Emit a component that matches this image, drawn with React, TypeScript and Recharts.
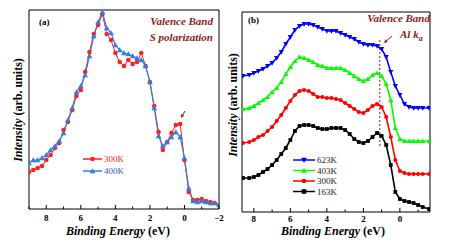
import React from "react";
import {
  LineChart,
  Line,
  XAxis,
  YAxis,
  ReferenceArea,
  ReferenceLine,
  Legend,
} from "recharts";

// ---- panel (a): S polarization, two temperatures ----
const energyA = [
  9, 8.75, 8.5, 8.25, 8, 7.75, 7.5, 7.25, 7, 6.75, 6.5, 6.25, 6, 5.75, 5.5,
  5.25, 5, 4.75, 4.5, 4.25, 4, 3.75, 3.5, 3.25, 3, 2.75, 2.5, 2.25, 2, 1.75,
  1.5, 1.25, 1, 0.75, 0.5, 0.25, 0, -0.25, -0.5, -0.75, -1, -1.25, -1.5, -1.75,
  -2,
];
const int300A = [
  37, 39, 41, 43, 49, 54, 61, 66, 79, 87, 99, 113, 119, 137, 157, 175, 184,
  195, 175, 169, 156, 147, 143, 149, 145, 147, 156, 143, 127, 103, 77, 59, 67,
  76, 84, 85, 49, 17, 9, 9, 10, 8, 7, 6, 4,
];
const int400A = [
  46, 49, 49, 51, 54, 59, 63, 68, 76, 89, 101, 117, 123, 134, 153, 173, 187,
  197, 181, 176, 164, 159, 156, 155, 153, 151, 149, 143, 127, 101, 73, 63, 67,
  72, 77, 72, 51, 21, 8, 7, 8, 7, 6, 6, 4,
];
const majorTicksA = [8, 6, 4, 2, 0, -2];
const minorTicksA = [9, 7, 5, 3, 1, -1];

// ---- panel (b): Al K-alpha, four temperatures (curves offset) ----
const energyB = [
  8.6, 8.25, 8, 7.75, 7.5, 7.25, 7, 6.75, 6.5, 6.25, 6, 5.75, 5.5, 5.25, 5,
  4.75, 4.5, 4.25, 4, 3.75, 3.5, 3.25, 3, 2.75, 2.5, 2.25, 2, 1.75, 1.5, 1.25,
  1, 0.75, 0.5, 0.25, 0, -0.25, -0.5, -0.75, -1, -1.25, -1.6,
];
const int623B = [
  136, 137, 139, 141, 143, 146, 149, 154, 160, 168, 175, 182, 186, 188, 188,
  187, 185, 183, 181, 181, 181, 179, 177, 175, 173, 170, 168, 167, 167, 166,
  163, 155, 140, 126, 117, 108, 105, 104, 104, 104, 104,
];
const int403B = [
  103, 104, 106, 109, 112, 115, 120, 124, 130, 138, 145, 151, 155, 154, 152,
  150, 147, 146, 144, 144, 144, 144, 142, 139, 136, 133, 131, 133, 137, 139,
  136, 128, 112, 84, 73, 71, 71, 71, 71, 71, 71,
];
const int300B = [
  69, 70, 72, 75, 77, 81, 85, 91, 97, 104, 111, 117, 121, 122, 121, 118, 115,
  115, 114, 114, 113, 112, 109, 106, 103, 100, 99, 102, 106, 108, 105, 95, 75,
  52, 41, 39, 38, 38, 38, 38, 38,
];
const int163B = [
  34, 34, 35, 37, 40, 43, 47, 52, 58, 64, 72, 81, 86, 87, 87, 86, 84, 83, 83,
  84, 84, 84, 82, 78, 73, 70, 69, 71, 75, 79, 76, 67, 47, 20, 13, 11, 10, 9, 7,
  5, 3,
];
const majorTicksB = [8, 6, 4, 2, 0];
const minorTicksB = [7, 5, 3, 1, -1];
const markerEnergyB = 1.1;

const dataA = energyA.map((e, i) => ({ e, k300: int300A[i], k400: int400A[i] }));
const dataB = energyB.map((e, i) => ({
  e,
  k623: int623B[i],
  k403: int403B[i],
  k300: int300B[i],
  k163: int163B[i],
}));

const SERIF = "'Liberation Serif', 'Times New Roman', 'DejaVu Serif', serif";
const DARK_RED = "#8b1a1a";

type Shape = "circle" | "up" | "down" | "square";

const Marker = ({ cx, cy, shape, color, r = 2 }: any) => {
  if (cx == null || cy == null) return null;
  if (shape === "circle") return <circle cx={cx} cy={cy} r={r} fill={color} />;
  if (shape === "square")
    return <rect x={cx - r} y={cy - r} width={2 * r} height={2 * r} fill={color} />;
  const h = r * 1.25;
  const pts =
    shape === "up"
      ? `${cx},${cy - h} ${cx - h},${cy + h * 0.8} ${cx + h},${cy + h * 0.8}`
      : `${cx},${cy + h} ${cx - h},${cy - h * 0.8} ${cx + h},${cy - h * 0.8}`;
  return <polygon points={pts} fill={color} />;
};

const dotFor = (shape: Shape, color: string, r: number) => (p: any) => (
  <Marker key={`d-${p.index}`} cx={p.cx} cy={p.cy} shape={shape} color={color} r={r} />
);

// inward tick marks, labels only on the even values
const bottomTick = (majors: number[], gap: number) => (p: any) => {
  const { x, y, payload } = p;
  const major = majors.includes(payload.value);
  const v = payload.value;
  return (
    <g>
      <line x1={x} x2={x} y1={y} y2={y - (major ? 4 : 2.5)} stroke="#000" />
      {major && (
        <text
          x={x}
          y={y + gap}
          textAnchor="middle"
          fill="#000"
          style={{ fontFamily: SERIF, fontSize: 9, fontWeight: "bold" }}
        >
          {v < 0 ? `\u2212${-v}` : v}
        </text>
      )}
    </g>
  );
};

const legendContent =
  (order: string[], shapes: Record<string, Shape>, textColors: Record<string, string> | null, rowH: number, lineW: number) =>
  (props: any) => {
    const items = [...(props.payload || [])].sort(
      (a: any, b: any) => order.indexOf(a.dataKey) - order.indexOf(b.dataKey)
    );
    return (
      <svg width={70} height={rowH * items.length + 6} style={{ overflow: "visible", display: "block" }}>
        {items.map((it: any, i: number) => {
          const y = 5 + i * rowH;
          return (
            <g key={it.value}>
              <line x1={2} x2={2 + lineW} y1={y} y2={y} stroke={it.color} strokeWidth={1.5} />
              <Marker cx={2 + lineW / 2} cy={y} shape={shapes[it.dataKey]} color={it.color} r={2.3} />
              <text
                x={lineW + 4}
                y={y + 3.2}
                fill={textColors ? textColors[it.dataKey] : "#222"}
                style={{ fontFamily: SERIF, fontSize: 9 }}
              >
                {it.value}
              </text>
            </g>
          );
        })}
      </svg>
    );
  };

const Arrow = ({ x1, y1, x2, y2 }: any) => {
  const dx = x2 - x1;
  const dy = y2 - y1;
  const len = Math.sqrt(dx * dx + dy * dy);
  const ux = dx / len;
  const uy = dy / len;
  const hx = x2 - ux * 3.5;
  const hy = y2 - uy * 3.5;
  return (
    <g>
      <line x1={x1} y1={y1} x2={hx} y2={hy} stroke={DARK_RED} strokeWidth={1} />
      <polygon
        points={`${x2},${y2} ${hx - uy * 1.8},${hy + ux * 1.8} ${hx + uy * 1.8},${hy - ux * 1.8}`}
        fill={DARK_RED}
      />
    </g>
  );
};

const BLUE_A = "#2f7fe0";
const RED_A = "#ff1f1f";

const titleStyle = { fontFamily: SERIF, fontSize: 12, fontWeight: "bold" as const };
const noteStyle = { fontFamily: SERIF, fontSize: 11, fontWeight: "bold" as const, fontStyle: "italic" as const };

const App = () => {
  return (
    <div style={{ position: "absolute", left: 0, top: 0, width: 454, height: 246, background: "#fff" }}>
      <div style={{ position: "absolute", left: 0, top: 0 }}>
        <LineChart width={227} height={246} data={dataA} margin={{ top: 10, right: 8, bottom: 7, left: 29 }}>
          <XAxis
            dataKey="e"
            type="number"
            domain={[-2, 9]}
            reversed
            allowDataOverflow
            ticks={[...minorTicksA, ...majorTicksA].sort((a, b) => b - a)}
            tick={bottomTick(majorTicksA, 12)}
            tickLine={false}
            axisLine={false}
            tickSize={0}
            tickMargin={0}
            height={30}
            interval={0}
          />
          <YAxis hide type="number" domain={[0, 199]} allowDataOverflow />
          <ReferenceArea x1={-2} x2={9} y1={0} y2={199} fill="none" stroke="#000" strokeWidth={1} ifOverflow="visible" />
          <Line
            dataKey="k300"
            name="300K"
            stroke={RED_A}
            strokeWidth={1}
            dot={dotFor("circle", RED_A, 2.3)}
            isAnimationActive={false}
          />
          <Line
            dataKey="k400"
            name="400K"
            stroke={BLUE_A}
            strokeWidth={1.2}
            dot={dotFor("up", BLUE_A, 2.3)}
            isAnimationActive={false}
          />
          <Legend
            layout="vertical"
            align="center"
            verticalAlign="middle"
            wrapperStyle={{ left: 81, top: 154, width: 70, height: 30 }}
            content={legendContent(["k300", "k400"], { k300: "circle", k400: "up" }, { k300: RED_A, k400: "#3a55d0" }, 12, 19)}
          />
        </LineChart>
      </div>
      <div style={{ position: "absolute", left: 227, top: 0 }}>
        <LineChart width={227} height={246} data={dataB} margin={{ top: 12, right: 24, bottom: 4, left: 15 }}>
          <XAxis
            dataKey="e"
            type="number"
            domain={[-1.65, 8.65]}
            reversed
            allowDataOverflow
            ticks={[...minorTicksB, ...majorTicksB].sort((a, b) => b - a)}
            tick={bottomTick(majorTicksB, 10)}
            tickLine={false}
            axisLine={false}
            tickSize={0}
            tickMargin={0}
            height={30}
            interval={0}
          />
          <YAxis hide type="number" domain={[0, 200]} allowDataOverflow />
          <ReferenceArea x1={-1.65} x2={8.65} y1={0} y2={200} fill="none" stroke="#000" strokeWidth={1} ifOverflow="visible" />
          <ReferenceLine
            segment={[
              { x: markerEnergyB, y: 66 },
              { x: markerEnergyB, y: 173 },
            ]}
            stroke={DARK_RED}
            strokeDasharray="2 2"
            strokeWidth={1}
          />
          <Line dataKey="k623" name="623K" stroke="#0000ff" strokeWidth={1.6} dot={dotFor("down", "#0000ff", 2.1)} isAnimationActive={false} />
          <Line dataKey="k403" name="403K" stroke="#00ff00" strokeWidth={1.6} dot={dotFor("up", "#00ff00", 2.1)} isAnimationActive={false} />
          <Line dataKey="k300" name="300K" stroke="#ff0000" strokeWidth={1.6} dot={dotFor("circle", "#ff0000", 2.1)} isAnimationActive={false} />
          <Line dataKey="k163" name="163K" stroke="#000000" strokeWidth={1.6} dot={dotFor("square", "#000000", 1.9)} isAnimationActive={false} />
          <Legend
            layout="vertical"
            align="center"
            verticalAlign="middle"
            wrapperStyle={{ left: 64, top: 155, width: 70, height: 48 }}
            content={legendContent(
              ["k623", "k403", "k300", "k163"],
              { k623: "down", k403: "up", k300: "circle", k163: "square" },
              null,
              10.5,
              22
            )}
          />
        </LineChart>
      </div>
      <svg width={454} height={246} style={{ position: "absolute", left: 0, top: 0, pointerEvents: "none" }}>
        {/* panel (a) */}
        <text x={39} y={25} style={{ fontFamily: SERIF, fontSize: 9, fontWeight: "bold" }}>(a)</text>
        <text x={213} y={25} fill={DARK_RED} textAnchor="end" style={noteStyle}>
          Valence Band
        </text>
        <text x={213} y={41} fill={DARK_RED} textAnchor="end" style={noteStyle}>
          S polarization
        </text>
        <Arrow x1={185} y1={111} x2={181} y2={118} />
        <text x={118} y={235} textAnchor="middle" style={titleStyle}>
          <tspan fontStyle="italic">Binding Energy</tspan> (eV)
        </text>
        <text transform="translate(22,110) rotate(-90)" textAnchor="middle" style={titleStyle}>
          <tspan fontStyle="italic">Intensity</tspan> (arb. units)
        </text>

        {/* panel (b) */}
        <text x={248} y={23} style={{ fontFamily: SERIF, fontSize: 9, fontWeight: "bold" }}>(b)</text>
        <text x={430} y={22} fill={DARK_RED} textAnchor="end" style={noteStyle}>
          Valence Band
        </text>
        <text x={400} y={38} fill={DARK_RED} style={noteStyle}>
          Al k<tspan fontSize={8} dy={3}>a</tspan>
        </text>
        <Arrow x1={392} y1={36} x2={384} y2={43} />
        <text x={333} y={235} textAnchor="middle" style={titleStyle}>
          <tspan fontStyle="italic">Binding Energy</tspan> (eV)
        </text>
        <text transform="translate(237,105) rotate(-90)" textAnchor="middle" style={titleStyle}>
          <tspan fontStyle="italic">Intensity</tspan> (arb. units)
        </text>
      </svg>
    </div>
  );
};

export default App;
